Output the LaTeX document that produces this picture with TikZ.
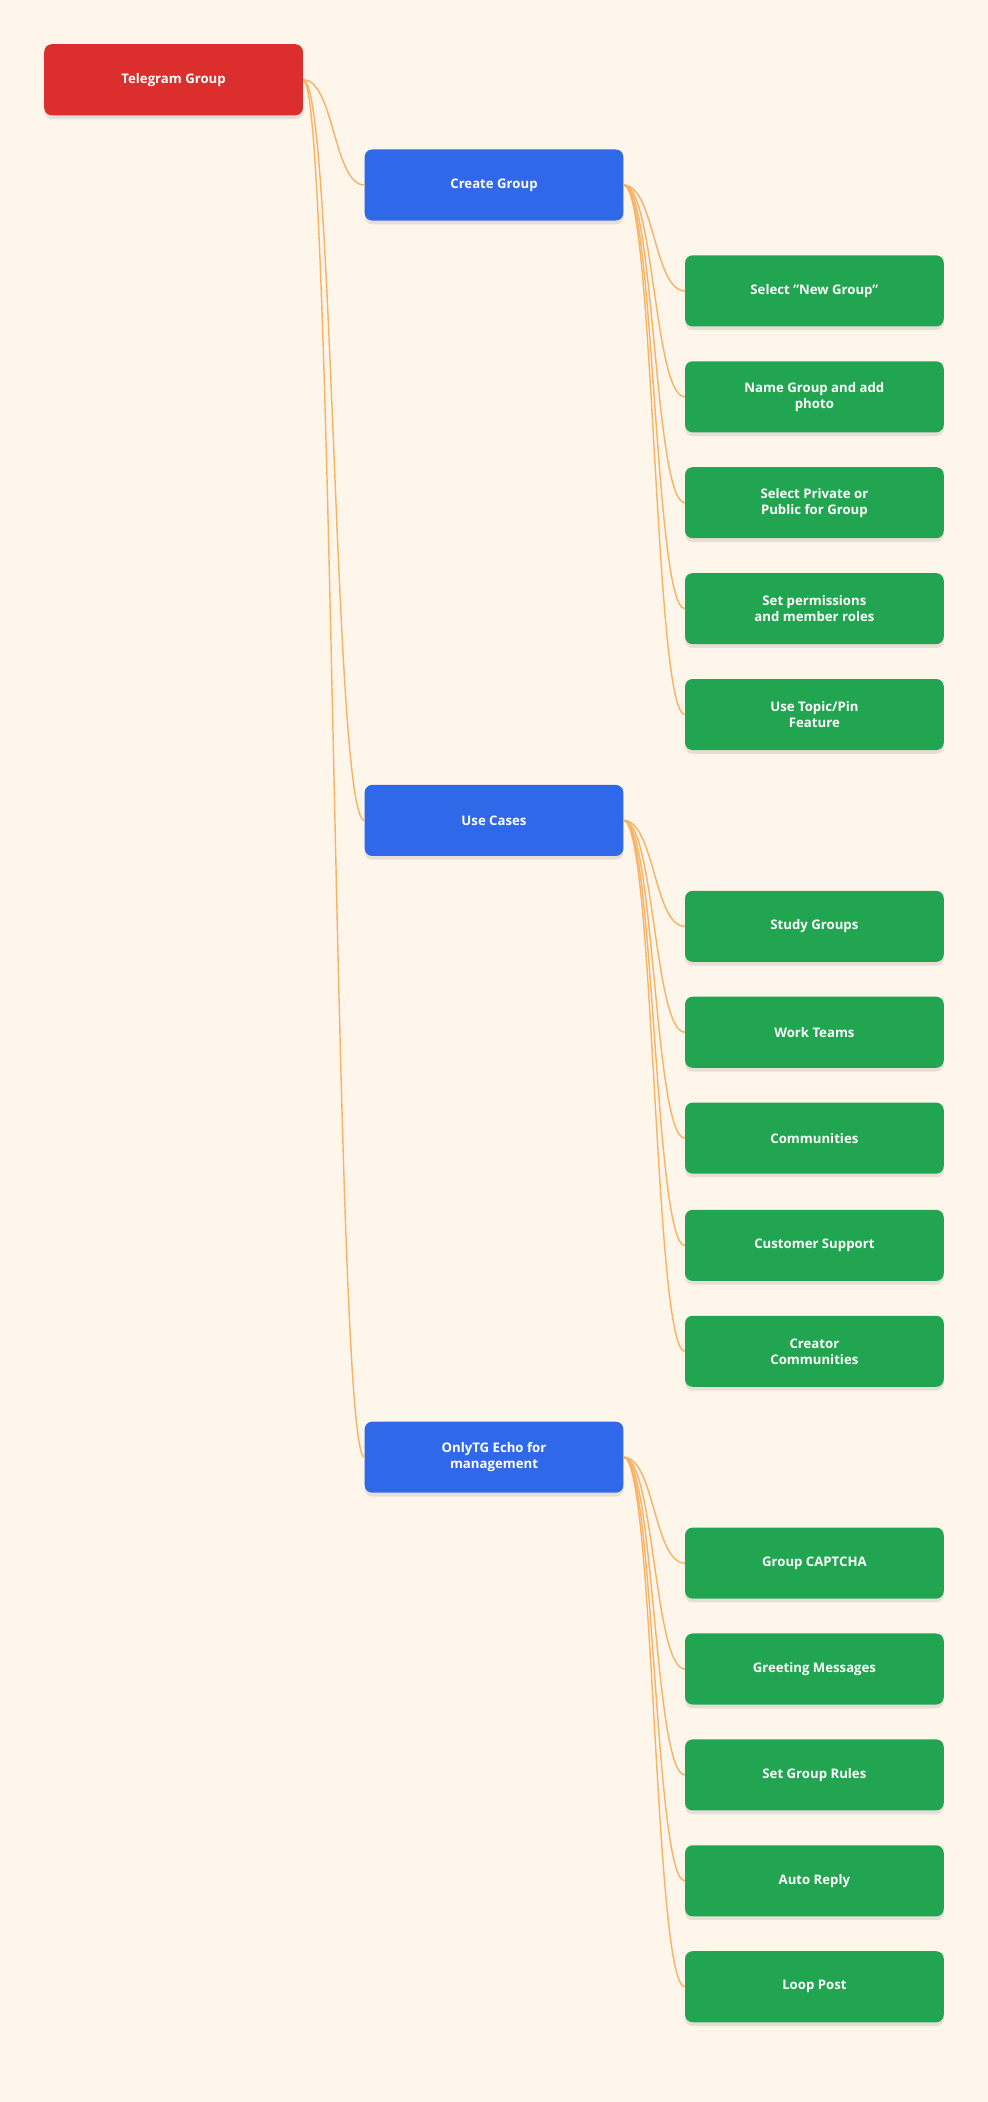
\documentclass[tikz,border=0pt]{standalone}
\usepackage{fontspec}
\setmainfont{Open Sans}
\usetikzlibrary{shadows}
\definecolor{bgcol}{HTML}{FEF5EB}
\definecolor{rootcol}{HTML}{DD2E2E}
\definecolor{topiccol}{HTML}{2F69E9}
\definecolor{leafcol}{HTML}{22A550}
\definecolor{linkcol}{HTML}{F7B365}
\begin{document}
\begin{tikzpicture}[x=0.05cm, y=-0.05cm,
    box/.style={rectangle, rounded corners=8pt, minimum width=9.65cm, minimum height=2.65cm, text=white, align=center,
      font=\fontsize{14}{17}\selectfont\bfseries, drop shadow={opacity=0.18, shadow xshift=0pt, shadow yshift=-4pt}},
    root/.style={box, fill=rootcol},
    topic/.style={box, fill=topiccol},
    leaf/.style={box, fill=leafcol},
    link/.style={draw=linkcol, line width=1.5pt}
]
    \fill[bgcol] (0,0) rectangle (737,1568);
    \useasboundingbox (0,0) rectangle (737,1568);

    % Nodes
    \node[root] (tg) at (129.5,59.5) {Telegram Group};
    \node[topic] (create) at (368.5,138) {Create Group};
    \node[topic] (uses) at (368.5,612) {Use Cases};
    \node[topic] (echo) at (368.5,1087) {OnlyTG Echo for\\management};

    \node[leaf] (c1) at (607.5,217) {Select "New Group"};
    \node[leaf] (c2) at (607.5,296) {Name Group and add\\photo};
    \node[leaf] (c3) at (607.5,375) {Select Private or\\Public for Group};
    \node[leaf] (c4) at (607.5,454) {Set permissions\\and member roles};
    \node[leaf] (c5) at (607.5,533) {Use Topic/Pin\\Feature};

    \node[leaf] (u1) at (607.5,691) {Study Groups};
    \node[leaf] (u2) at (607.5,770) {Work Teams};
    \node[leaf] (u3) at (607.5,849) {Communities};
    \node[leaf] (u4) at (607.5,929) {Customer Support};
    \node[leaf] (u5) at (607.5,1008) {Creator\\Communities};

    \node[leaf] (e1) at (607.5,1166) {Group CAPTCHA};
    \node[leaf] (e2) at (607.5,1245) {Greeting Messages};
    \node[leaf] (e3) at (607.5,1324) {Set Group Rules};
    \node[leaf] (e4) at (607.5,1403) {Auto Reply};
    \node[leaf] (e5) at (607.5,1482) {Loop Post};

    % Links
    \begin{scope}[on background layer/.style={}]
    \foreach \a/\b in {tg/create, tg/uses, tg/echo,
        create/c1, create/c2, create/c3, create/c4, create/c5,
        uses/u1, uses/u2, uses/u3, uses/u4, uses/u5,
        echo/e1, echo/e2, echo/e3, echo/e4, echo/e5}
      \draw[link] (\a.east) .. controls ([xshift=1.15cm]\a.east) and ([xshift=-1.15cm]\b.west) .. (\b.west);
    \end{scope}
\end{tikzpicture}
\end{document}
